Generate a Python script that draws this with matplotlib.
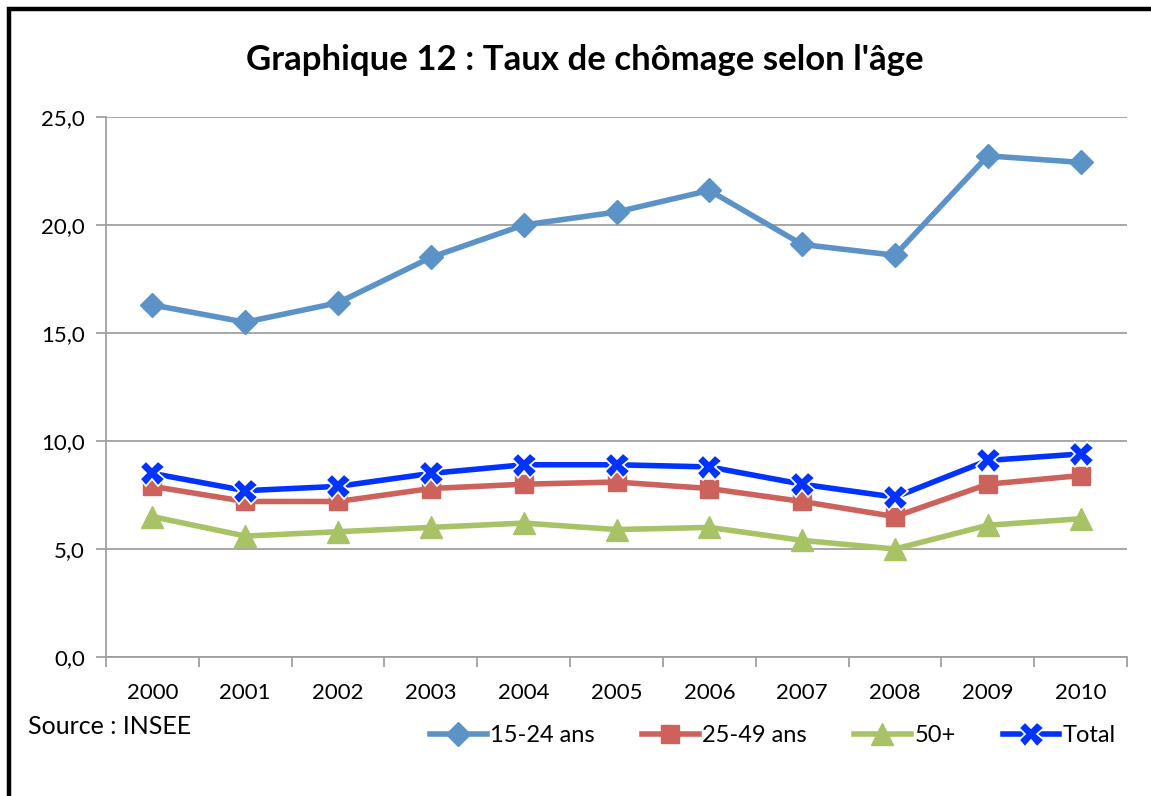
import matplotlib
matplotlib.use("Agg")
import matplotlib.pyplot as plt
from matplotlib.patches import Rectangle
from matplotlib.ticker import FixedLocator, FuncFormatter

plt.rcParams['font.family'] = ['Lato', 'DejaVu Sans']

annees = ["2000", "2001", "2002", "2003", "2004", "2005", "2006", "2007", "2008", "2009", "2010"]
jeunes = [16.3, 15.5, 16.4, 18.5, 20.0, 20.6, 21.6, 19.1, 18.6, 23.2, 22.9]
adultes = [7.9, 7.2, 7.2, 7.8, 8.0, 8.1, 7.8, 7.2, 6.5, 8.0, 8.4]
seniors = [6.5, 5.6, 5.8, 6.0, 6.2, 5.9, 6.0, 5.4, 5.0, 6.1, 6.4]
total = [8.5, 7.7, 7.9, 8.5, 8.9, 8.9, 8.8, 8.0, 7.4, 9.1, 9.4]

W, H = 1151, 796
fig = plt.figure(figsize=(W / 100, H / 100), dpi=100)
ax = fig.add_axes([106 / W, 1 - 657 / H, (1127 - 106) / W, (657 - 117) / H])

x = list(range(len(annees)))
ax.plot(x, jeunes, color='#5B93C9', lw=4, marker='D', ms=12.5, mec='#5B93C9',
        label='15-24 ans', zorder=3)
ax.plot(x, adultes, color='#CD625C', lw=4, marker='s', ms=12.5, mec='#CD625C',
        label='25-49 ans', zorder=3)
ax.plot(x, seniors, color='#A8C266', lw=4, marker='^', ms=16, mec='#A8C266',
        label='50+', zorder=3)
ax.plot(x, total, color='#0033FF', lw=4, marker='X', ms=18, mfc='#0033FF',
        mec='white', mew=1.2, label='Total', zorder=4)

ax.set_xlim(-0.5, len(annees) - 0.5)
ax.set_ylim(0, 25)
ax.set_yticks([0, 5, 10, 15, 20, 25])
ax.yaxis.set_major_formatter(FuncFormatter(lambda v, p: f"{v:.1f}".replace('.', ',')))
ax.yaxis.grid(True, color='#A0A0A0', lw=1.3)
ax.set_axisbelow(True)

ax.set_xticks(x)
ax.set_xticklabels(annees)
ax.xaxis.set_minor_locator(FixedLocator([i - 0.5 for i in range(len(annees) + 1)]))
ax.tick_params(axis='x', which='major', length=0, pad=19, labelsize=16)
ax.tick_params(axis='x', which='minor', length=7, width=1.3, color='#A0A0A0')
ax.tick_params(axis='y', length=7, width=1.3, color='#A0A0A0', labelsize=16, pad=8)

for s in ['top', 'right']:
    ax.spines[s].set_visible(False)
for s in ['left', 'bottom']:
    ax.spines[s].set_color('#A0A0A0')
    ax.spines[s].set_linewidth(1.3)

fig.text(585 / W, 1 - 60 / H, "Graphique 12 : Taux de chômage selon l'âge",
         ha='center', va='center', fontsize=25, fontweight='bold')
fig.text(28 / W, 1 - 727 / H, "Source : INSEE", ha='left', va='center', fontsize=18)

fig.legend(loc='center', bbox_to_anchor=(773 / W, 1 - 736 / H), ncol=4, frameon=False,
           fontsize=17, handlelength=2.4, handletextpad=0.15, columnspacing=2.0,
           borderaxespad=0)

fig.patches.append(Rectangle((9 / W, -0.1), 1.2, 1 - 9 / H + 0.1, transform=fig.transFigure,
                             fill=False, ec='black', lw=3.2))

fig.savefig("out.png", dpi=100)
